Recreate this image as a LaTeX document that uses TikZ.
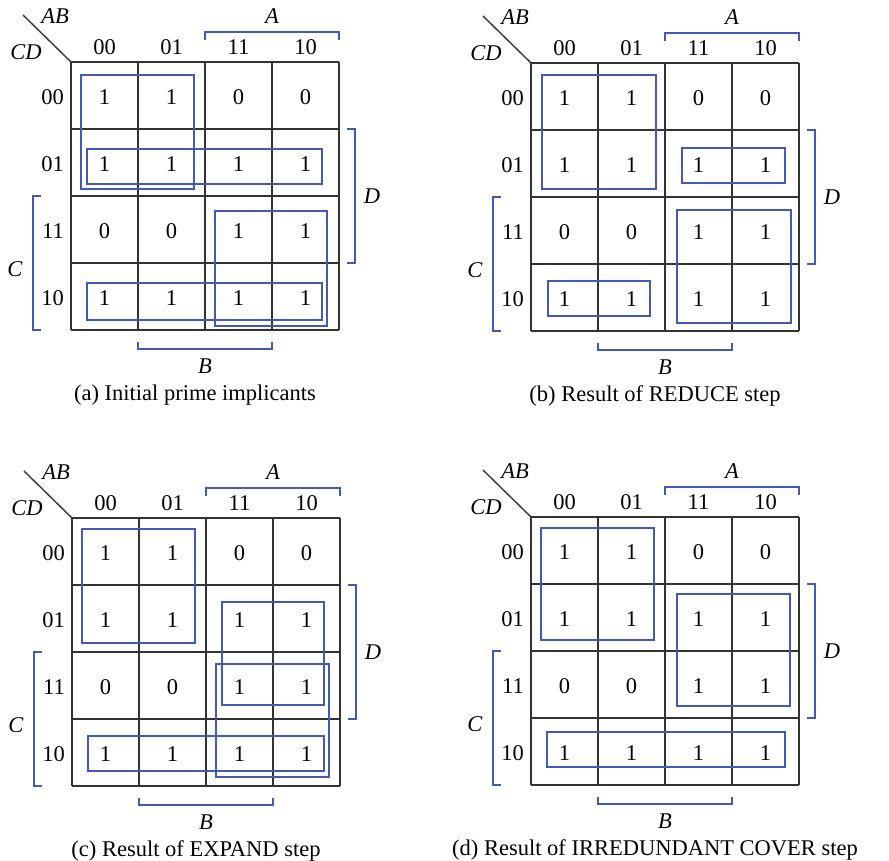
\documentclass[tikz,border=0pt]{standalone}
\usepackage{fontspec}
\setmainfont{Liberation Serif}
\usepackage{tikz}
\definecolor{kblue}{RGB}{68,88,182}
\tikzset{ >=latex }
\def\cs{67}
\tikzset{
	gridline/.style={line width=1.5pt, black!80},
	implicant/.style={line width=1.2pt, draw=kblue},
	bracket/.style={line width=1.2pt, kblue},
	lbl/.style={inner sep=0pt, font=\fontsize{22.5}{27}\selectfont},
}
\newcommand\DrawKarnaugh[2]{
	% Grid and diagonal
	\foreach \k in {0,...,4} {
		\draw[gridline] (\k*\cs,0) -- (\k*\cs,4*\cs);
		\draw[gridline] (0,\k*\cs) -- (4*\cs,\k*\cs);
	}
	\draw[line width=1.5pt, black!75] (-48,-47) -- (0,0);
	\node[lbl] (#1-AB) at (-16,-46) {\textit{AB}};
	\node[lbl] (#1-CD) at (-45,-10) {\textit{CD}};
	% Gray code labels
	\foreach \g [count=\k from 0] in {00,01,11,10} {
		\node[lbl] (#1-c\k) at ({(\k+0.5)*\cs},-15) {\g};
		\node[lbl, anchor=east] (#1-r\k) at (-7,{(\k+0.5)*\cs+2}) {\g};
	}
	% Cell values
	\foreach \row [count=\i from 0] in {{1,1,0,0},{1,1,1,1},{0,0,1,1},{1,1,1,1}} {
		\foreach \v [count=\j from 0] in \row {
			\node[lbl] (#1-\i\j) at ({(\j+0.5)*\cs},{(\i+0.5)*\cs+2}) {\v};
		}
	}
	% Variable brackets
	\draw[bracket] (2*\cs,-22) -- (2*\cs,-30) -- (4*\cs,-30) -- (4*\cs,-22);
	\node[lbl] (#1-A) at (3*\cs,-46) {\textit{A}};
	\draw[bracket] (4*\cs+8,\cs) -- (4*\cs+16,\cs) -- (4*\cs+16,3*\cs) -- (4*\cs+8,3*\cs);
	\node[lbl] (#1-D) at (4*\cs+33,2*\cs) {\textit{D}};
	\draw[bracket] (-30,2*\cs) -- (-38,2*\cs) -- (-38,4*\cs) -- (-30,4*\cs);
	\node[lbl] (#1-C) at (-56,3*\cs+6) {\textit{C}};
	\draw[bracket] (\cs,4*\cs+12) -- (\cs,4*\cs+19) -- (3*\cs,4*\cs+19) -- (3*\cs,4*\cs+12);
	\node[lbl] (#1-B) at (2*\cs,4*\cs+36) {\textit{B}};
	% Caption
	\node[lbl] (#1-cap) at (2*\cs-10,4*\cs+65) {#2};
}

\begin{document}
\begin{tikzpicture}[x=1pt, y=-1pt]
	\useasboundingbox (0,0) rectangle (889,861);
	% (a) Initial prime implicants
	\begin{scope}[shift={(71,62)}]
		\DrawKarnaugh{a}{(a) Initial prime implicants}
		\draw[implicant] (10,13) rectangle (123,127);		% A'C'
		\draw[implicant] (16,87) rectangle (251,122);		% C'D
		\draw[implicant] (144,149) rectangle (256,264);		% AC
		\draw[implicant] (16,221) rectangle (251,258);		% CD'
	\end{scope}
	% (b) Result of REDUCE
	\begin{scope}[shift={(531,63)}]
		\DrawKarnaugh{b}{(b) Result of REDUCE step}
		\draw[implicant] (11,12) rectangle (125,126);
		\draw[implicant] (151,85) rectangle (254,120);
		\draw[implicant] (146,147) rectangle (260,260);
		\draw[implicant] (17,218) rectangle (119,253);
	\end{scope}
	% (c) Result of EXPAND
	\begin{scope}[shift={(72,518)}]
		\DrawKarnaugh{c}{(c) Result of EXPAND step}
		\draw[implicant] (10,11) rectangle (123,125);
		\draw[implicant] (150,84) rectangle (252,187);
		\draw[implicant] (144,146) rectangle (257,259);
		\draw[implicant] (16,218) rectangle (252,253);
	\end{scope}
	% (d) Result of IRREDUNDANT COVER
	\begin{scope}[shift={(531,517)}]
		\DrawKarnaugh{d}{(d) Result of IRREDUNDANT COVER step}
		\draw[implicant] (10,11) rectangle (123,123);
		\draw[implicant] (146,77) rectangle (259,189);
		\draw[implicant] (16,215) rectangle (254,250);
	\end{scope}
\end{tikzpicture}
\end{document}
